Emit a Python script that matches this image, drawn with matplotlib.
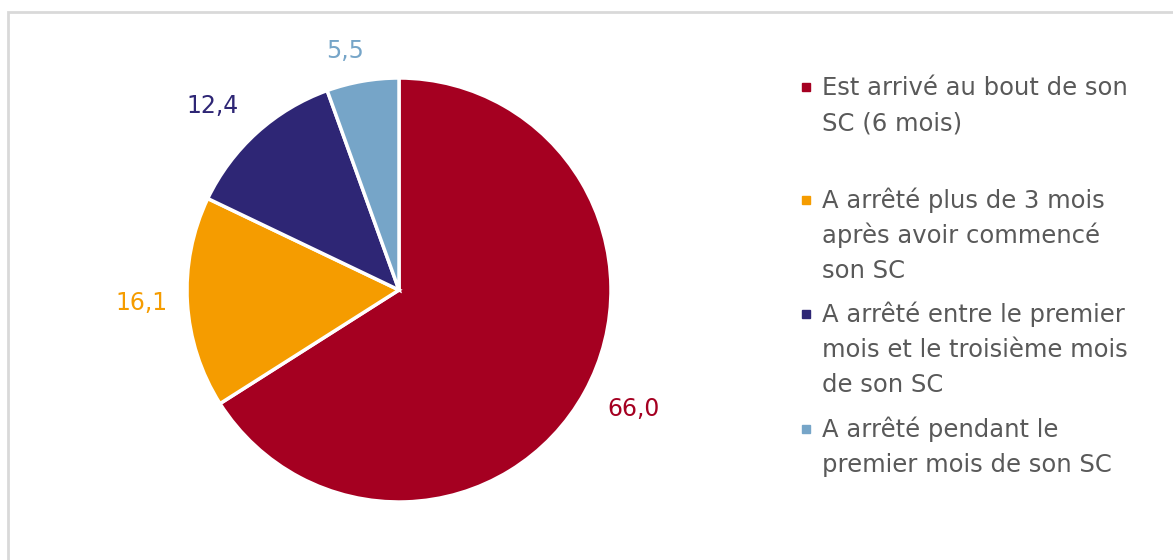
import matplotlib.pyplot as plt
from matplotlib.lines import Line2D
from matplotlib.patches import Rectangle

plt.rcParams["font.family"] = ["DejaVu Sans"]

# Données
valeurs = [66.0, 16.1, 12.4, 5.5]
etiquettes_valeurs = ["66,0", "16,1", "12,4", "5,5"]
categories = [
    "Est arrivé au bout de son\nSC (6 mois)",
    "A arrêté plus de 3 mois\naprès avoir commencé\nson SC",
    "A arrêté entre le premier\nmois et le troisième mois\nde son SC",
    "A arrêté pendant le\npremier mois de son SC",
]
couleurs = ["#A50021", "#F59C00", "#2E2675", "#76A5C8"]

W, H = 1173, 560
fig = plt.figure(figsize=(W / 100, H / 100), dpi=100)


def fx(px):
    return px / W


def fy(py):
    return 1 - py / H


# cadre gris (ouvert à droite et en bas)
fig.add_artist(Rectangle((fx(8), -0.1), 1.2, fy(12) + 0.1, transform=fig.transFigure,
                         fill=False, edgecolor="#D9D9D9", linewidth=2))

# camembert
cx, cy, r = 399, 290, 212
ax = fig.add_axes([fx(cx - r), fy(cy + r), (2 * r) / W, (2 * r) / H])
ax.pie(valeurs, colors=couleurs, startangle=90, counterclock=False,
       wedgeprops=dict(edgecolor="white", linewidth=2.5))
ax.set_xlim(-1, 1)
ax.set_ylim(-1, 1)
ax.axis("off")

# étiquettes de valeurs (position en pixels)
pos_etiquettes = [(634, 409), (142, 303), (213, 106), (345, 51)]
for (px, py), txt, c in zip(pos_etiquettes, etiquettes_valeurs, couleurs):
    fig.text(fx(px), fy(py), txt, color=c, fontsize=17, ha="center", va="center")

# légende manuelle : une ligne de texte à la fois pour un interligne régulier
lignes_base = [95, 208, 322, 437]
pas = 35
for base, lab, c in zip(lignes_base, categories, couleurs):
    fig.add_artist(Line2D([fx(806)], [fy(base - 8)], marker="s", markersize=6,
                          color=c, transform=fig.transFigure))
    for i, ligne in enumerate(lab.split("\n")):
        fig.text(fx(822), fy(base + i * pas), ligne, color="#595959", fontsize=17.5,
                 ha="left", va="baseline")

plt.savefig("out.png", dpi=100)
